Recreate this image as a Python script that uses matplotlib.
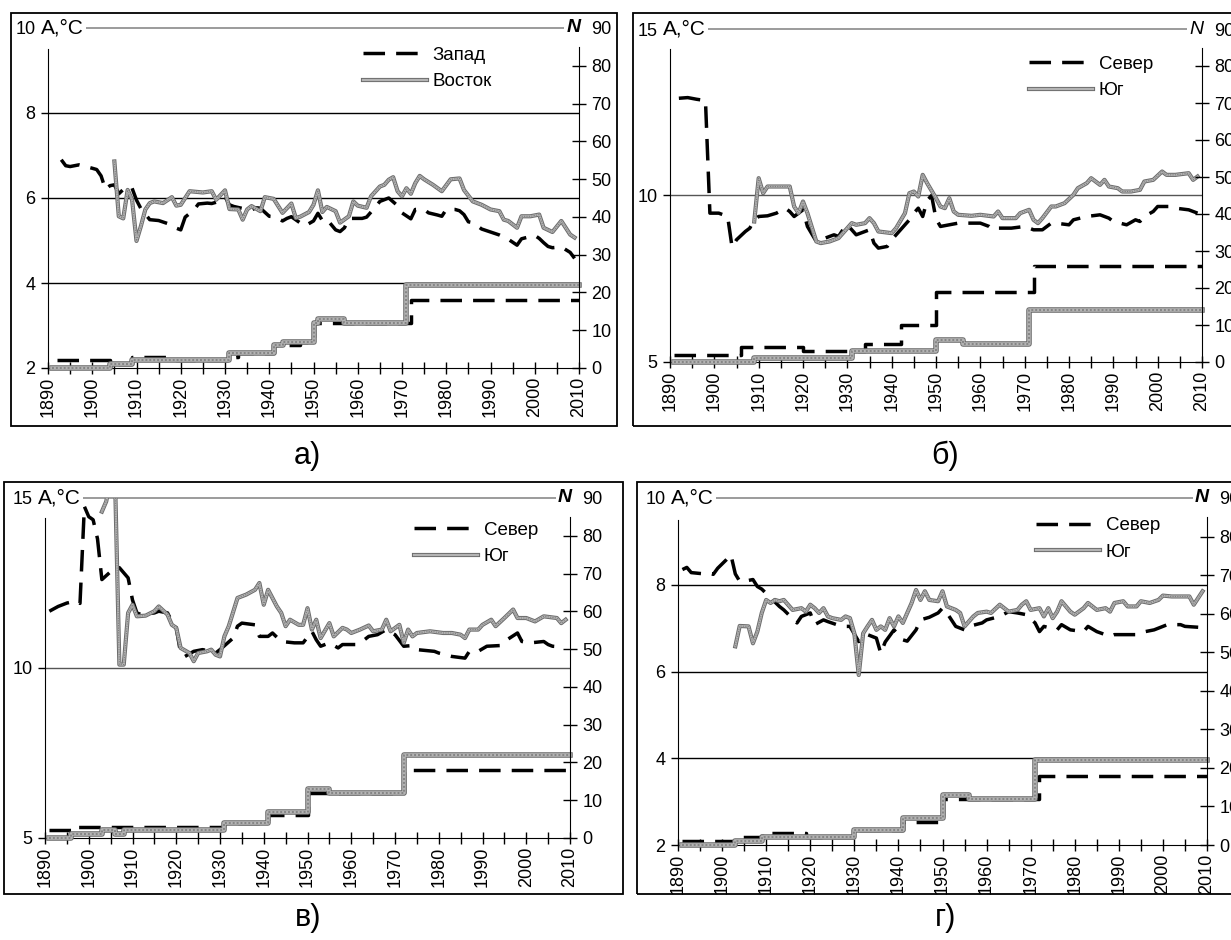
import matplotlib
matplotlib.use('Agg')
import matplotlib.pyplot as plt
import matplotlib.patheffects as pe
from matplotlib.patches import Rectangle

# Panel a: West / East
A_WEST = [(1893, 6.90), (1894, 6.76), (1895, 6.74), (1897, 6.78), (1900, 6.70), (1901, 6.67),
          (1902, 6.52), (1903, 6.20), (1904, 6.29), (1905, 6.31), (1906, 6.10), (1907, 6.20),
          (1908, 6.27), (1909, 6.23), (1910, 5.95), (1911, 5.75), (1912, 5.62), (1913, 5.49),
          (1915, 5.47), (1917, 5.40), (1919, 5.29), (1920, 5.25), (1921, 5.55), (1923, 5.72),
          (1924, 5.86), (1926, 5.88), (1927, 5.87), (1928, 5.90), (1929, 5.98), (1930, 6.03),
          (1931, 5.84), (1932, 5.80), (1935, 5.73), (1936, 5.72), (1937, 5.77), (1938, 5.76),
          (1940, 5.57), (1941, 5.56), (1942, 5.52), (1943, 5.46), (1944, 5.52), (1945, 5.56),
          (1948, 5.34), (1950, 5.46), (1951, 5.64), (1952, 5.47), (1953, 5.50), (1955, 5.25),
          (1956, 5.21), (1957, 5.30), (1958, 5.52), (1961, 5.52), (1962, 5.55), (1964, 5.79),
          (1965, 5.92), (1967, 6.00), (1969, 5.82), (1970, 5.65), (1972, 5.51), (1973, 5.73),
          (1975, 5.73), (1976, 5.65), (1978, 5.60), (1979, 5.57), (1980, 5.73), (1982, 5.73),
          (1983, 5.70), (1984, 5.61), (1985, 5.44), (1986, 5.42), (1988, 5.27), (1992, 5.13),
          (1994, 5.03), (1996, 4.89), (1997, 5.04), (2000, 5.12), (2001, 5.05), (2002, 4.95),
          (2003, 4.86), (2004, 4.83), (2006, 4.85), (2008, 4.72), (2009, 4.58)]
A_EAST = [(1905, 6.86), (1906, 5.57), (1907, 5.52), (1908, 6.19), (1909, 5.96), (1910, 4.99),
          (1911, 5.34), (1912, 5.73), (1913, 5.88), (1914, 5.92), (1916, 5.88), (1918, 6.02),
          (1919, 5.82), (1920, 5.84), (1922, 6.16), (1925, 6.13), (1927, 6.16), (1928, 5.96),
          (1930, 6.18), (1931, 5.74), (1933, 5.73), (1934, 5.49), (1935, 5.73), (1936, 5.81),
          (1938, 5.69), (1939, 6.02), (1941, 5.98), (1943, 5.65), (1945, 5.87), (1946, 5.53),
          (1947, 5.56), (1949, 5.67), (1950, 5.84), (1951, 6.18), (1952, 5.67), (1953, 5.79),
          (1955, 5.69), (1956, 5.42), (1958, 5.57), (1959, 5.92), (1960, 5.82), (1962, 5.77),
          (1963, 6.04), (1965, 6.27), (1966, 6.31), (1967, 6.43), (1968, 6.49), (1969, 6.16),
          (1970, 6.04), (1971, 6.23), (1972, 6.10), (1973, 6.35), (1974, 6.52), (1975, 6.44),
          (1977, 6.31), (1979, 6.16), (1981, 6.44), (1983, 6.46), (1984, 6.19), (1986, 5.92),
          (1988, 5.84), (1990, 5.73), (1992, 5.69), (1993, 5.49), (1994, 5.46), (1996, 5.30),
          (1997, 5.57), (1999, 5.57), (2001, 5.61), (2002, 5.30), (2004, 5.20), (2006, 5.46),
          (2008, 5.14), (2009, 5.07)]
A_N_WEST = [(1892, 2), (1904, 1), (1909, 3), (1919, 2), (1931, 3), (1933, 4), (1941, 6),
            (1947, 7), (1950, 12), (1972, 18), (2010, 18)]
A_N_EAST = [(1891, 0), (1904, 1), (1909, 2), (1931, 4), (1941, 6), (1943, 7), (1950, 12),
            (1951, 13), (1957, 12), (1971, 22), (2010, 22)]

# Panel b: North / South
B_NORTH = [(1892, 12.92), (1894, 12.94), (1896, 12.89), (1898, 12.85), (1899, 9.47), (1901, 9.47),
           (1903, 9.37), (1904, 8.45), (1905, 8.67), (1907, 8.92), (1908, 9.02), (1909, 9.27),
           (1910, 9.37), (1912, 9.39), (1914, 9.47), (1916, 9.62), (1917, 9.52), (1918, 9.37),
           (1919, 9.47), (1920, 9.57), (1921, 9.07), (1923, 8.62), (1924, 8.67), (1927, 8.82),
           (1928, 8.77), (1929, 8.97), (1930, 9.12), (1932, 8.82), (1935, 8.97), (1936, 8.57),
           (1937, 8.42), (1939, 8.47), (1940, 8.67), (1941, 8.82), (1944, 9.27), (1945, 9.47),
           (1946, 9.62), (1947, 9.37), (1948, 9.85), (1949, 10.0), (1950, 9.30), (1951, 9.07),
           (1953, 9.12), (1955, 9.17), (1957, 9.17), (1960, 9.17), (1962, 9.07), (1963, 8.97),
           (1964, 9.02), (1967, 9.02), (1970, 9.07), (1972, 8.97), (1974, 8.97), (1976, 9.17),
           (1977, 9.17), (1980, 9.12), (1981, 9.27), (1984, 9.37), (1987, 9.42), (1989, 9.32),
           (1990, 9.22), (1993, 9.12), (1995, 9.27), (1996, 9.22), (1997, 9.37), (1999, 9.52),
           (2000, 9.67), (2003, 9.67), (2004, 9.62), (2007, 9.57), (2009, 9.47)]
B_SOUTH = [(1909, 9.22), (1910, 10.52), (1911, 10.07), (1912, 10.27), (1917, 10.27), (1918, 9.67),
           (1919, 9.47), (1920, 9.82), (1921, 9.47), (1923, 8.62), (1924, 8.57), (1926, 8.62),
           (1928, 8.72), (1929, 8.87), (1931, 9.17), (1932, 9.12), (1934, 9.17), (1935, 9.32),
           (1936, 9.17), (1937, 8.92), (1940, 8.87), (1941, 9.02), (1943, 9.47), (1944, 10.07),
           (1945, 10.12), (1946, 9.97), (1947, 10.62), (1948, 10.37), (1950, 9.92), (1951, 9.67),
           (1952, 9.62), (1953, 9.92), (1954, 9.52), (1955, 9.42), (1958, 9.39), (1960, 9.42),
           (1963, 9.37), (1964, 9.52), (1965, 9.32), (1968, 9.32), (1969, 9.47), (1971, 9.57),
           (1972, 9.27), (1973, 9.17), (1974, 9.32), (1976, 9.67), (1977, 9.67), (1979, 9.77),
           (1981, 10.02), (1982, 10.22), (1984, 10.37), (1985, 10.52), (1987, 10.32), (1988, 10.47),
           (1989, 10.27), (1991, 10.22), (1992, 10.12), (1994, 10.12), (1996, 10.17), (1997, 10.42),
           (1999, 10.47), (2001, 10.72), (2002, 10.62), (2004, 10.62), (2007, 10.67), (2008, 10.47),
           (2009, 10.57)]
B_N_NORTH = [(1891, 2), (1906, 4), (1920, 3), (1934, 5), (1942, 10), (1950, 19), (1972, 26), (2010, 26)]
B_N_SOUTH = [(1891, 0), (1909, 1), (1931, 3), (1950, 6), (1956, 5), (1971, 14), (2010, 14)]

# Panel c: North / South
C_NORTH = [(1891, 11.67), (1893, 11.81), (1895, 11.91), (1897, 11.97), (1898, 11.90), (1899, 14.75),
           (1900, 14.45), (1901, 14.36), (1902, 13.80), (1903, 12.60), (1906, 12.95), (1907, 12.95),
           (1909, 12.65), (1910, 12.00), (1911, 11.62), (1912, 11.57), (1915, 11.62), (1916, 11.67),
           (1918, 11.62), (1919, 11.37), (1920, 11.18), (1921, 10.44), (1922, 10.34), (1924, 10.49),
           (1926, 10.54), (1928, 10.49), (1929, 10.44), (1930, 10.54), (1933, 10.88), (1934, 11.23),
           (1935, 11.32), (1938, 11.27), (1939, 10.93), (1941, 10.93), (1942, 11.03), (1944, 10.78),
           (1947, 10.74), (1949, 10.74), (1951, 11.08), (1952, 10.83), (1953, 10.64), (1955, 10.74),
           (1957, 10.59), (1958, 10.69), (1961, 10.69), (1963, 10.83), (1964, 10.93), (1966, 10.98),
           (1968, 11.13), (1970, 10.98), (1972, 10.64), (1974, 10.66), (1975, 10.54), (1979, 10.49),
           (1980, 10.44), (1983, 10.34), (1986, 10.29), (1987, 10.49), (1989, 10.49), (1991, 10.64),
           (1994, 10.66), (1995, 10.78), (1998, 11.03), (1999, 10.78), (2001, 10.74), (2004, 10.78),
           (2005, 10.69), (2006, 10.64), (2008, 10.62)]
C_SOUTH = [(1903, 14.60), (1904, 14.90), (1905, 15.60), (1906, 15.60), (1907, 10.10), (1908, 10.10),
           (1909, 11.62), (1910, 11.86), (1911, 11.52), (1913, 11.54), (1915, 11.67), (1916, 11.81),
           (1918, 11.57), (1919, 11.27), (1920, 11.18), (1921, 10.59), (1923, 10.44), (1924, 10.20),
           (1925, 10.44), (1927, 10.49), (1928, 10.54), (1929, 10.39), (1930, 10.34), (1931, 10.93),
           (1932, 11.23), (1934, 12.06), (1936, 12.16), (1938, 12.30), (1939, 12.50), (1940, 11.86),
           (1941, 12.30), (1943, 11.81), (1944, 11.62), (1945, 11.23), (1946, 11.42), (1948, 11.27),
           (1949, 11.27), (1950, 11.76), (1951, 11.13), (1952, 11.42), (1953, 10.88), (1955, 11.32),
           (1956, 10.93), (1958, 11.18), (1959, 11.13), (1960, 11.03), (1962, 11.13), (1964, 11.25),
           (1965, 11.08), (1967, 11.13), (1968, 11.42), (1969, 11.08), (1971, 11.27), (1972, 10.74),
           (1973, 11.13), (1974, 10.93), (1975, 11.03), (1978, 11.08), (1981, 11.03), (1983, 11.03),
           (1985, 10.98), (1986, 10.88), (1987, 11.13), (1989, 11.13), (1990, 11.27), (1992, 11.42),
           (1993, 11.23), (1995, 11.47), (1997, 11.72), (1998, 11.47), (2000, 11.47), (2002, 11.37),
           (2004, 11.52), (2007, 11.47), (2008, 11.32), (2009, 11.42)]
C_N_NORTH = [(1891, 2), (1897, 3), (1931, 4), (1941, 6), (1950, 12), (1972, 18), (2010, 18)]
C_N_SOUTH = [(1891, 0), (1896, 1), (1903, 2), (1906, 1), (1908, 2), (1931, 4), (1941, 7),
             (1950, 13), (1955, 12), (1972, 22), (2010, 22)]

# Panel d: North / South
D_NORTH = [(1891, 8.35), (1892, 8.40), (1893, 8.28), (1896, 8.25), (1897, 8.27), (1898, 8.24),
           (1899, 8.38), (1901, 8.58), (1902, 8.69), (1903, 8.25), (1904, 8.08), (1905, 8.08),
           (1907, 8.12), (1908, 7.96), (1909, 7.90), (1913, 7.50), (1914, 7.42), (1917, 7.12),
           (1918, 7.27), (1920, 7.35), (1921, 7.08), (1923, 7.19), (1924, 7.15), (1926, 7.08),
           (1928, 7.04), (1929, 7.04), (1931, 6.69), (1933, 6.85), (1935, 6.77), (1936, 6.42),
           (1937, 6.68), (1939, 6.96), (1941, 6.73), (1942, 6.70), (1944, 6.96), (1945, 7.19),
           (1947, 7.25), (1949, 7.35), (1950, 7.46), (1951, 7.35), (1953, 7.04), (1955, 6.96),
           (1956, 7.04), (1959, 7.12), (1960, 7.19), (1963, 7.27), (1965, 7.38), (1967, 7.35),
           (1969, 7.31), (1971, 7.12), (1972, 6.92), (1973, 7.04), (1976, 6.96), (1977, 7.08),
           (1979, 6.96), (1982, 6.92), (1983, 7.04), (1985, 6.92), (1988, 6.81), (1989, 6.85),
           (1991, 6.85), (1994, 6.85), (1996, 6.92), (1998, 6.96), (2001, 7.08), (2004, 7.08),
           (2005, 7.04), (2008, 7.02)]
D_SOUTH = [(1903, 6.58), (1904, 7.05), (1906, 7.04), (1907, 6.65), (1908, 6.92), (1909, 7.35),
           (1910, 7.65), (1911, 7.58), (1912, 7.65), (1913, 7.62), (1914, 7.65), (1916, 7.42),
           (1918, 7.46), (1919, 7.38), (1920, 7.54), (1921, 7.46), (1922, 7.35), (1923, 7.46),
           (1924, 7.27), (1925, 7.23), (1927, 7.19), (1928, 7.27), (1929, 7.23), (1930, 6.88),
           (1931, 5.92), (1932, 6.88), (1933, 7.04), (1934, 7.19), (1935, 6.96), (1936, 7.04),
           (1937, 6.96), (1938, 7.23), (1939, 7.04), (1940, 7.27), (1941, 7.12), (1943, 7.58),
           (1944, 7.88), (1945, 7.65), (1946, 7.85), (1947, 7.65), (1949, 7.62), (1950, 7.85),
           (1951, 7.50), (1953, 7.42), (1954, 7.35), (1955, 7.04), (1957, 7.27), (1958, 7.35),
           (1960, 7.38), (1961, 7.35), (1963, 7.54), (1965, 7.38), (1967, 7.42), (1968, 7.54),
           (1969, 7.62), (1970, 7.42), (1972, 7.46), (1973, 7.27), (1974, 7.46), (1975, 7.23),
           (1976, 7.38), (1977, 7.62), (1979, 7.38), (1980, 7.31), (1982, 7.46), (1983, 7.58),
           (1985, 7.42), (1987, 7.46), (1988, 7.38), (1989, 7.58), (1991, 7.62), (1992, 7.50),
           (1994, 7.50), (1995, 7.62), (1997, 7.58), (1999, 7.65), (2000, 7.75), (2002, 7.73),
           (2004, 7.73), (2006, 7.73), (2007, 7.54), (2009, 7.85)]
D_N_NORTH = [(1891, 1), (1903, 2), (1909, 3), (1919, 2), (1931, 4), (1941, 6), (1950, 12),
             (1972, 18), (2010, 18)]
D_N_SOUTH = [(1891, 0), (1903, 1), (1909, 2), (1930, 4), (1941, 7), (1950, 13), (1956, 12),
             (1971, 22), (2010, 22)]

N_TICKS = list(range(0, 91, 10))
YEAR_TICKS = list(range(1890, 2011, 5))

plt.rcParams['font.family'] = ['Liberation Sans', 'DejaVu Sans']

TICK_FS = 13
YEAR_FS = 13
LEG_FS = 13.5

W, H = 1231, 940
fig = plt.figure(figsize=(W / 100, H / 100), dpi=100)


def px_box(left, top, right, bottom):
    return [left / W, 1 - bottom / H, (right - left) / W, (bottom - top) / H]


def gray_fx(lw):
    return [pe.Stroke(linewidth=lw + 1.4, foreground='#6b6b6b'), pe.Normal()]


def split(pairs):
    return [p[0] for p in pairs], [p[1] for p in pairs]


def gray_plot(ax, x, y, lw, **kw):
    h, = ax.plot(x, y, color='#b4b4b4', lw=lw, path_effects=gray_fx(lw), **kw)
    # fine dotted texture of the printed gray line
    kw.pop('label', None)
    ax.plot(x, y, color='#7c7c7c', lw=lw * 0.45, dashes=(1.2, 1.2), **kw)
    return h


def panel(box, ylim, yticks, grid, grid_color, names, dashed, gray, n_dashed, n_gray,
          spine_top, leg_xy, n_bold):
    ax = fig.add_axes(px_box(*box))
    ax2 = ax.twinx()

    ax.set_xlim(1890, 2010)
    ax.set_ylim(*ylim)
    ax2.set_ylim(0, 90)

    for g in grid:
        ax.axhline(g, color=grid_color, lw=1.0, zorder=0.5)
    ax.axhline(ylim[1], color='#8a8a8a', lw=1.2, zorder=0.5, clip_on=False)

    x, y = split(dashed)
    h1, = ax.plot(x, y, color='black', lw=2.5, dashes=(6.2, 3.2), label=names[0])
    x, y = split(gray)
    h2 = gray_plot(ax, x, y, 1.6, label=names[1])

    x, y = split(n_dashed)
    ax2.plot(x, y, color='black', lw=2.5, dashes=(6.2, 3.2), drawstyle='steps-post', clip_on=False)
    x, y = split(n_gray)
    gray_plot(ax2, x, y, 2.6, drawstyle='steps-post', clip_on=False)

    ax.set_xticks(YEAR_TICKS)
    ax.set_xticklabels([str(t) if t % 10 == 0 else '' for t in YEAR_TICKS])
    ax.set_yticks(yticks)
    ax2.set_yticks(N_TICKS)
    ax.tick_params(axis='x', direction='inout', length=9, width=1, labelrotation=90,
                   labelsize=YEAR_FS, pad=2)
    ax.tick_params(axis='y', direction='out', length=5, width=1, labelsize=TICK_FS, pad=4)
    ax2.tick_params(axis='y', direction='inout', length=10, width=1, labelsize=TICK_FS, pad=4)
    ax2.yaxis.get_major_ticks()[-1].tick2line.set_visible(False)
    ax.yaxis.get_major_ticks()[-1].tick1line.set_visible(False)

    ax.spines['top'].set_visible(False)
    ax.spines['right'].set_visible(False)
    ax.spines['left'].set_bounds(ylim[0], spine_top)
    for s in ['top', 'left', 'bottom']:
        ax2.spines[s].set_visible(False)
    ax2.spines['right'].set_bounds(0, 85)

    box_style = dict(facecolor='white', edgecolor='none', pad=1.5)
    ax2.text(-0.014, 1.0, 'A,°C', transform=ax2.transAxes, ha='left', va='center',
             fontsize=15, bbox=box_style, zorder=5)
    ax2.text(0.99, 1.0, 'N', transform=ax2.transAxes, ha='center', va='center',
             fontsize=14, fontstyle='italic', fontweight='bold' if n_bold else 'normal',
             bbox=box_style, zorder=5)

    ax2.legend(handles=[h1, h2], labels=names, loc='upper right', bbox_to_anchor=leg_xy,
               frameon=False, fontsize=LEG_FS, handlelength=3.4, handletextpad=0.3,
               labelspacing=0.5, borderpad=0, borderaxespad=0)
    return ax


panel((48, 28, 579, 368), (2, 10), [2, 4, 6, 8, 10], [4, 6, 8], 'black', ['Запад', 'Восток'],
      A_WEST, A_EAST, A_N_WEST, A_N_EAST, 9.5, (0.836, 0.945), True)
panel((670, 29, 1202, 362), (5, 15), [5, 10, 15], [10], '#555555', ['Север', 'Юг'],
      B_NORTH, B_SOUTH, B_N_NORTH, B_N_SOUTH, 14.4, (0.908, 0.92), False)
panel((45, 498, 570, 838), (5, 15), [5, 10, 15], [10], '#555555', ['Север', 'Юг'],
      C_NORTH, C_SOUTH, C_N_NORTH, C_N_SOUTH, 14.4, (0.939, 0.93), True)
panel((678, 498, 1207, 845), (2, 10), [2, 4, 6, 8, 10], [4, 6, 8], 'black', ['Север', 'Юг'],
      D_NORTH, D_SOUTH, D_N_NORTH, D_N_SOUTH, 9.5, (0.911, 0.945), True)

# outer frames around each panel
for l, t, r, b in [(11, 13, 617, 426), (633, 13, 1240, 426), (4, 482, 623, 894), (637, 482, 1240, 894)]:
    fig.add_artist(Rectangle((l / W, 1 - b / H), (r - l) / W, (b - t) / H, transform=fig.transFigure,
                             fill=False, edgecolor='black', lw=1.3))

for tag, x, y in [('а)', 307, 456), ('б)', 945, 456), ('в)', 308, 918), ('г)', 946, 918)]:
    fig.text(x / W, 1 - y / H, tag, ha='center', va='center', fontsize=22)

fig.savefig('out.png', dpi=100)
